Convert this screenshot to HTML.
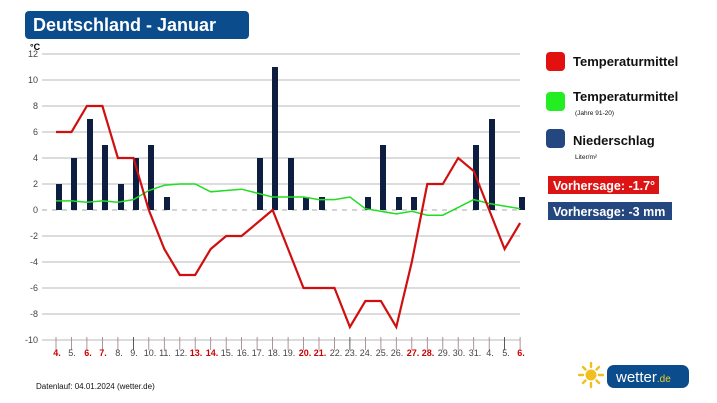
<!DOCTYPE html><html><head><meta charset="utf-8"><style>body{margin:0;background:#fff}svg{display:block;font-family:"Liberation Sans",sans-serif}</style></head><body>
<svg width="717" height="403" viewBox="0 0 717 403">
<rect x="25" y="11" width="224" height="28" rx="4" fill="#0b4c8c"/>
<text x="33" y="31" font-size="18" font-weight="bold" fill="#fff">Deutschland - Januar</text>
<text x="30" y="50" font-size="9" font-weight="bold">°C</text>
<g stroke="#c8c8c8" stroke-width="1.2">
<line x1="42" x2="520" y1="54" y2="54"/><line x1="42" x2="520" y1="80" y2="80"/><line x1="42" x2="520" y1="106" y2="106"/><line x1="42" x2="520" y1="132" y2="132"/><line x1="42" x2="520" y1="158" y2="158"/><line x1="42" x2="520" y1="184" y2="184"/><line x1="42" x2="520" y1="236" y2="236"/><line x1="42" x2="520" y1="262" y2="262"/><line x1="42" x2="520" y1="288" y2="288"/><line x1="42" x2="520" y1="314" y2="314"/><line x1="42" x2="520" y1="340" y2="340"/>
</g>
<line x1="42" x2="520" y1="210" y2="210" stroke="#aaa" stroke-dasharray="5,5"/>
<g font-size="9" fill="#444" text-anchor="end">
<text x="38" y="57">12</text><text x="38" y="83">10</text><text x="38" y="109">8</text><text x="38" y="135">6</text><text x="38" y="161">4</text><text x="38" y="187">2</text><text x="38" y="213">0</text><text x="38" y="239">-2</text><text x="38" y="265">-4</text><text x="38" y="291">-6</text><text x="38" y="317">-8</text><text x="38" y="343">-10</text>
</g>
<g fill="#0d1e40">
<rect x="56" y="184" width="6" height="26"/><rect x="71" y="158" width="6" height="52"/><rect x="87" y="119" width="6" height="91"/><rect x="102" y="145" width="6" height="65"/><rect x="118" y="184" width="6" height="26"/><rect x="133" y="158" width="6" height="52"/><rect x="148" y="145" width="6" height="65"/><rect x="164" y="197" width="6" height="13"/>
<rect x="257" y="158" width="6" height="52"/><rect x="272" y="67" width="6" height="143"/><rect x="288" y="158" width="6" height="52"/><rect x="303" y="197" width="6" height="13"/><rect x="319" y="197" width="6" height="13"/>
<rect x="365" y="197" width="6" height="13"/><rect x="380" y="145" width="6" height="65"/><rect x="396" y="197" width="6" height="13"/><rect x="411" y="197" width="6" height="13"/>
<rect x="473" y="145" width="6" height="65"/><rect x="489" y="119" width="6" height="91"/><rect x="519" y="197" width="6" height="13"/>
</g>
<polyline fill="none" stroke="#22dd22" stroke-width="1.5" points="56,200.9 71.5,200.9 86.9,202.2 102.4,200.9 117.9,202.2 133.4,199.6 148.8,190.5 164.3,185.3 179.8,184 195.2,184 210.7,191.8 226.2,190.5 241.6,189.2 257.1,193.1 272.6,197 288.1,197 303.5,197 319,199.6 334.5,199.6 349.9,197 365.4,208.7 380.9,211.3 396.3,213.9 411.8,211.3 427.3,215.2 442.8,215.2 458.2,207.4 473.7,199.6 489.2,203.5 504.6,206.1 520.1,208.7"/>
<polyline fill="none" stroke="#d01010" stroke-width="2.2" points="56,132 71.5,132 86.9,106 102.4,106 117.9,158 133.4,158 148.8,210 164.3,249 179.8,275 195.2,275 210.7,249 226.2,236 241.6,236 257.1,223 272.6,210 288.1,249 303.5,288 319,288 334.5,288 349.9,327 365.4,301 380.9,301 396.3,327 411.8,262 427.3,184 442.8,184 458.2,158 473.7,171 489.2,210 504.6,249 520.1,223"/>
<g stroke="#9a7a85" stroke-width="0.8">
<line x1="56" x2="56" y1="337" y2="350"/><line x1="71.5" x2="71.5" y1="337" y2="350"/><line x1="86.9" x2="86.9" y1="337" y2="350"/><line x1="102.4" x2="102.4" y1="337" y2="350"/><line x1="117.9" x2="117.9" y1="337" y2="350"/><line x1="133.4" x2="133.4" y1="337" y2="350" stroke="#333"/><line x1="148.8" x2="148.8" y1="337" y2="350"/><line x1="164.3" x2="164.3" y1="337" y2="350"/><line x1="179.8" x2="179.8" y1="337" y2="350"/><line x1="195.2" x2="195.2" y1="337" y2="350"/><line x1="210.7" x2="210.7" y1="337" y2="350"/><line x1="226.2" x2="226.2" y1="337" y2="350"/><line x1="241.6" x2="241.6" y1="337" y2="350"/><line x1="257.1" x2="257.1" y1="337" y2="350"/><line x1="272.6" x2="272.6" y1="337" y2="350"/><line x1="288.1" x2="288.1" y1="337" y2="350"/><line x1="303.5" x2="303.5" y1="337" y2="350"/><line x1="319" x2="319" y1="337" y2="350"/><line x1="334.5" x2="334.5" y1="337" y2="350"/><line x1="349.9" x2="349.9" y1="337" y2="350" stroke="#333"/><line x1="365.4" x2="365.4" y1="337" y2="350"/><line x1="380.9" x2="380.9" y1="337" y2="350"/><line x1="396.3" x2="396.3" y1="337" y2="350"/><line x1="411.8" x2="411.8" y1="337" y2="350"/><line x1="427.3" x2="427.3" y1="337" y2="350"/><line x1="442.8" x2="442.8" y1="337" y2="350"/><line x1="458.2" x2="458.2" y1="337" y2="350"/><line x1="473.7" x2="473.7" y1="337" y2="350"/><line x1="489.2" x2="489.2" y1="337" y2="350"/><line x1="504.6" x2="504.6" y1="337" y2="350" stroke="#333"/><line x1="520.1" x2="520.1" y1="337" y2="350"/>
</g>
<g font-size="9" fill="#444" text-anchor="middle">
<text x="57" y="356" fill="#c00" font-weight="bold">4.</text><text x="72" y="356">5.</text><text x="88" y="356" fill="#c00" font-weight="bold">6.</text><text x="103" y="356" fill="#c00" font-weight="bold">7.</text><text x="119" y="356">8.</text><text x="134" y="356">9.</text><text x="150" y="356">10.</text><text x="165" y="356">11.</text><text x="181" y="356">12.</text><text x="196" y="356" fill="#c00" font-weight="bold">13.</text><text x="212" y="356" fill="#c00" font-weight="bold">14.</text><text x="227" y="356">15.</text><text x="243" y="356">16.</text><text x="258" y="356">17.</text><text x="274" y="356">18.</text><text x="289" y="356">19.</text><text x="305" y="356" fill="#c00" font-weight="bold">20.</text><text x="320" y="356" fill="#c00" font-weight="bold">21.</text><text x="336" y="356">22.</text><text x="351" y="356">23.</text><text x="366" y="356">24.</text><text x="382" y="356">25.</text><text x="397" y="356">26.</text><text x="413" y="356" fill="#c00" font-weight="bold">27.</text><text x="428" y="356" fill="#c00" font-weight="bold">28.</text><text x="444" y="356">29.</text><text x="459" y="356">30.</text><text x="475" y="356">31.</text><text x="490" y="356">4.</text><text x="506" y="356">5.</text><text x="521" y="356" fill="#c00" font-weight="bold">6.</text>
</g>
<text x="36" y="389" font-size="8" fill="#111">Datenlauf: 04.01.2024 (wetter.de)</text>
<rect x="546" y="52" width="19" height="19" rx="4" fill="#e31010"/>
<text x="573" y="66" font-size="13" font-weight="bold" fill="#111">Temperaturmittel</text>
<rect x="546" y="92" width="19" height="19" rx="4" fill="#22ee22"/>
<text x="573" y="101" font-size="13" font-weight="bold" fill="#111">Temperaturmittel</text>
<text x="575" y="115" font-size="6.5" fill="#111">(Jahre 91-20)</text>
<rect x="546" y="129" width="19" height="19" rx="4" fill="#24477f"/>
<text x="573" y="145" font-size="13" font-weight="bold" fill="#111">Niederschlag</text>
<text x="575" y="159" font-size="6.5" fill="#111">Liter/m²</text>
<rect x="548" y="176" width="111" height="18" fill="#dd1414"/>
<text x="553" y="190" font-size="12.5" font-weight="bold" fill="#fff">Vorhersage: -1.7°</text>
<rect x="548" y="202" width="124" height="18" fill="#24477f"/>
<text x="553" y="216" font-size="12.5" font-weight="bold" fill="#fff">Vorhersage: -3 mm</text>
<g stroke="#f0c020" stroke-width="2.4" stroke-linecap="round">
<line x1="591" y1="363" x2="591" y2="367"/><line x1="591" y1="383" x2="591" y2="387"/><line x1="579" y1="375" x2="583" y2="375"/><line x1="599" y1="375" x2="603" y2="375"/><line x1="583" y1="367" x2="585.5" y2="369.5"/><line x1="596.5" y1="380.5" x2="599" y2="383"/><line x1="583" y1="383" x2="585.5" y2="380.5"/><line x1="596.5" y1="369.5" x2="599" y2="367"/>
</g>
<circle cx="591" cy="375" r="5.5" fill="#f0c020"/>
<rect x="607" y="365" width="82" height="23" rx="7" fill="#0b4c8c"/>
<text x="616" y="382" font-size="15" fill="#fff">wetter<tspan font-size="10" fill="#e8d020">.de</tspan></text>
</svg>
</body></html>
